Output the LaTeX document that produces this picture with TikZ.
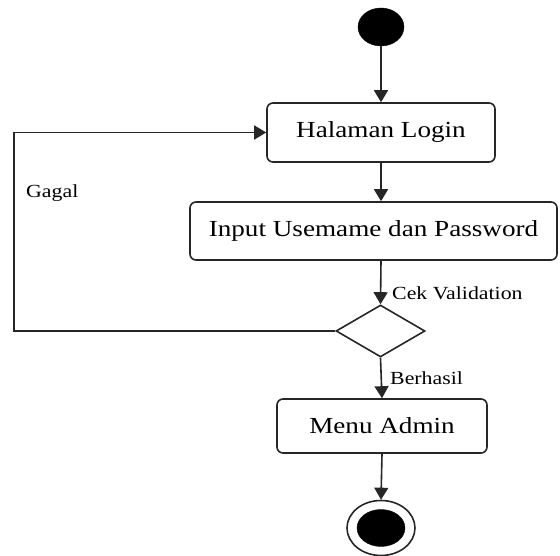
\documentclass[tikz,border=0pt]{standalone}
\usepackage{fontspec}
\setmainfont[FakeStretch=1.18]{Liberation Serif}
\usetikzlibrary{shapes.geometric,arrows.meta}
\begin{document}
\begin{tikzpicture}[x=1pt,y=1pt,
  line/.style={draw=black!85, line width=1.6pt},
  arr/.style={line, -{Triangle[length=12pt,width=14pt]}},
  act/.style={line, rounded corners=6pt, fill=white, inner sep=0pt, font=\fontsize{23}{26}\selectfont},
  lbl/.style={anchor=west, inner sep=0pt, font=\fontsize{18.5}{21}\selectfont},
  dec/.style={line, diamond, aspect=1.7, inner sep=0pt, minimum width=89pt, minimum height=52pt}]
\useasboundingbox (0,0) rectangle (560,556);
\node[ellipse, fill=black, draw=black, minimum width=46pt, minimum height=38pt, inner sep=0pt] (start) at (381,529) {};
\node[act, minimum width=228pt, minimum height=59pt] (hal) at (381,423.5) {Halaman Login};
\node[act, minimum width=367pt, minimum height=58pt] (inp) at (373.5,325) {Input Usemame dan Password};
\node[dec] (dia) at (380.5,225) {};
\node[act, minimum width=210pt, minimum height=54pt] (menu) at (382,130) {Menu Admin};
\node[ellipse, line, minimum width=68pt, minimum height=55pt, inner sep=0pt] (endo) at (381,28) {};
\node[ellipse, fill=black, draw=black, minimum width=48pt, minimum height=37pt, inner sep=0pt] (endi) at (381,28) {};
\coordinate (gl) at (14,0);
\draw[arr] (start) -- (hal.north);
\draw[arr] (hal.south) -- (hal.south |- inp.north);
\draw[arr] (hal.south |- inp.south) -- (dia.north);
\draw[arr] (dia.south) -- (menu.north);
\draw[arr] (menu.south) -- (endo.north);
\draw[arr] (dia.west) -- (dia.west -| gl) |- (hal.west);
\node[lbl] (cek) at (392,263) {Cek Validation};
\node[lbl] (ber) at (390,178) {Berhasil};
\node[lbl] (gag) at (26,363) {Gagal};
\end{tikzpicture}
\end{document}
